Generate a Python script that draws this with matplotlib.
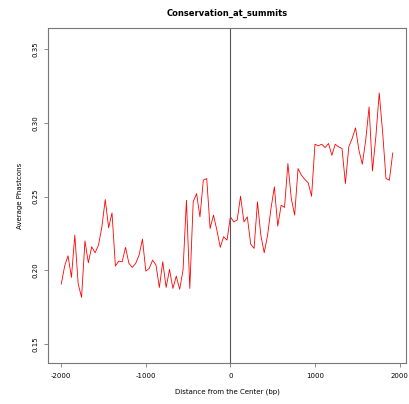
import numpy as np
import matplotlib
matplotlib.use("Agg")
import matplotlib.pyplot as plt

# distance from summit (bp), 40 bp bins
distance = list(range(-2000, 1960, 40))

# average phastcons score per bin
phastcons = [
    0.1907, 0.2029, 0.2099, 0.1952, 0.2239, 0.1907, 0.1817, 0.2200, 0.2051, 0.2160,
    0.2119, 0.2171, 0.2295, 0.2481, 0.2289, 0.2390, 0.2029, 0.2063, 0.2058, 0.2156,
    0.2047, 0.2020, 0.2047, 0.2103, 0.2212, 0.1995, 0.2013, 0.2069, 0.2036, 0.1884,
    0.2058, 0.1884, 0.2006, 0.1877, 0.1961, 0.1871, 0.2002, 0.2476, 0.1877, 0.2465,
    0.2521, 0.2363, 0.2612, 0.2623, 0.2284, 0.2375, 0.2273, 0.2156, 0.2228, 0.2205,
    0.2363, 0.2329, 0.2341, 0.2503, 0.2329, 0.2363, 0.2178, 0.2149, 0.2465, 0.2239,
    0.2119, 0.2239, 0.2420, 0.2567, 0.2300, 0.2442, 0.2427, 0.2725, 0.2488, 0.2375,
    0.2691, 0.2646, 0.2617, 0.2594, 0.2503, 0.2856, 0.2845, 0.2856, 0.2833, 0.2861,
    0.2781, 0.2856, 0.2838, 0.2827, 0.2589, 0.2838, 0.2895, 0.2967, 0.2815, 0.2720,
    0.2883, 0.3109, 0.2675, 0.2906, 0.3204, 0.2939, 0.2623, 0.2612, 0.2797,
]

x_ticks = [-2000, -1000, 0, 1000, 2000]
y_ticks = [0.15, 0.20, 0.25, 0.30, 0.35]

fig = plt.figure(figsize=(4.09, 4.04), dpi=100)
ax = fig.add_axes([0.1174, 0.1015, 0.8753, 0.8292])

ax.plot(distance, phastcons, color="red", lw=0.6)
ax.axvline(0, color="#555555", lw=0.8)

# R style 4% padding on x
span = distance[-1] - distance[0]
ax.set_xlim(distance[0] - 0.04 * span, distance[-1] + 0.04 * span)
ax.set_ylim(0.1371, 0.3645)
ax.set_xticks(x_ticks)
ax.set_xticklabels([str(t) for t in x_ticks])
ax.set_yticks(y_ticks)
ax.set_yticklabels(["%.2f" % t for t in y_ticks], rotation=90, va="center")

for s in ax.spines.values():
    s.set_color("#777777")
    s.set_linewidth(0.8)
ax.tick_params(length=3, width=0.6, color="#777777", labelsize=5, pad=4)

ax.set_title("Conservation_at_summits", fontsize=6, fontweight="bold", pad=9)
ax.set_xlabel("Distance from the Center (bp)", fontsize=5, labelpad=7)
ax.set_ylabel("Average Phastcons", fontsize=5, labelpad=7)

fig.savefig("out.png", dpi=100)
